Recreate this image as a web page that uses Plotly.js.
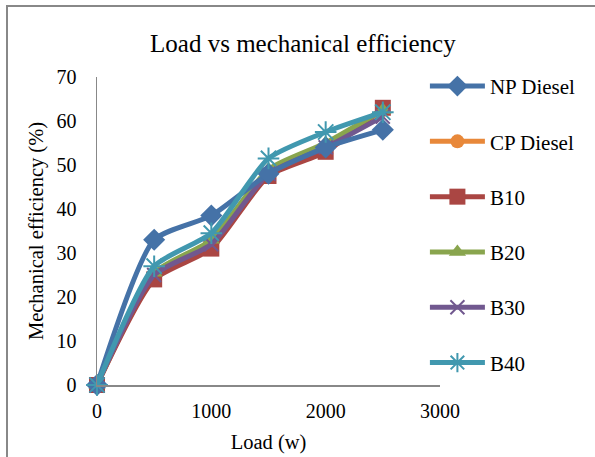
<!DOCTYPE html>
<html>
<head>
<meta charset="utf-8">
<script src="https://cdn.plot.ly/plotly-3.0.1.min.js"></script>
<style>
html,body{margin:0;padding:0;background:#fff;}
#chart{width:595px;height:457px;}
#frame{position:absolute;left:6px;top:5px;width:600px;height:460px;border:2px solid #888;pointer-events:none;box-sizing:border-box;}
</style>
</head>
<body>
<div id="chart"></div>
<div id="frame"></div>
<script>
const load = [0, 500, 1000, 1500, 2000, 2500];
const npDiesel = [0, 33, 38.5, 48, 54, 58];
const cpDiesel = [0, 24.5, 32, 48, 54, 62.5];
const b10 = [0, 24, 31, 47.5, 53, 63];
const b20 = [0, 25.5, 33, 49, 55, 62.5];
const b30 = [0, 25, 32, 48, 54, 61];
const b40 = [0, 27, 34.5, 51.5, 57.5, 62];

const names = ['NP Diesel', 'CP Diesel', 'B10', 'B20', 'B30', 'B40'];
const seriesValues = [npDiesel, cpDiesel, b10, b20, b30, b40];
const colors = ['#4572A7', '#E8883A', '#AA4643', '#89A54E', '#71588F', '#4198AF'];
const symbols = ['diamond', 'circle', 'square', 'triangle-up', 'x-thin-open', 'asterisk-open'];
const sizes = [17, 14, 16, 15, 14, 18];

const drawOrder = [1, 2, 3, 4, 0, 5];
const traces = names.map((n, i) => ({
  x: load,
  y: seriesValues[i],
  name: n,
  type: 'scatter',
  mode: 'lines+markers',
  legendgroup: 'g' + i,
  legendrank: i + 1,
  line: {color: colors[i], width: 5, shape: 'spline', smoothing: 0.6},
  marker: {symbol: symbols[i], size: sizes[i], color: colors[i],
           line: {color: colors[i], width: (i >= 4 ? 2 : 0)}},
  cliponaxis: false
}));
const ordered = drawOrder.map(i => traces[i]);

const layout = {
  width: 595, height: 457,
  margin: {l: 97, r: 155, t: 77, b: 72},
  paper_bgcolor: '#fff', plot_bgcolor: '#fff',
  font: {family: '"Liberation Serif", "Times New Roman", serif', color: '#000'},
  title: {text: 'Load vs mechanical efficiency', font: {size: 25, color: '#000'},
          x: 0.509, xanchor: 'center', y: 0.906, yanchor: 'middle'},
  xaxis: {
    range: [0, 3000], tickvals: [0, 1000, 2000, 3000], showgrid: false, zeroline: false,
    showline: true, linecolor: '#888', linewidth: 1.5, ticks: '',
    tickfont: {size: 20}, ticklabelstandoff: 7,
    title: {text: 'Load (w)', font: {size: 20.5}, standoff: 14}
  },
  yaxis: {
    range: [0, 70], dtick: 10, showgrid: false, zeroline: false,
    showline: true, linecolor: '#888', linewidth: 1.5, ticks: '',
    tickfont: {size: 20}, ticklabelstandoff: 15,
    title: {text: 'Mechanical efficiency (%)', font: {size: 20.5}, standoff: 7}
  },
  legend: {x: 0.956, xanchor: 'left', y: 1.036, yanchor: 'top', font: {size: 21},
           tracegroupgap: 25, traceorder: 'grouped', bgcolor: 'rgba(0,0,0,0)',
           itemwidth: 55, maxheight: 440},
  showlegend: true
};

Plotly.newPlot('chart', ordered, layout, {displayModeBar: false, staticPlot: true});
</script>
</body>
</html>
